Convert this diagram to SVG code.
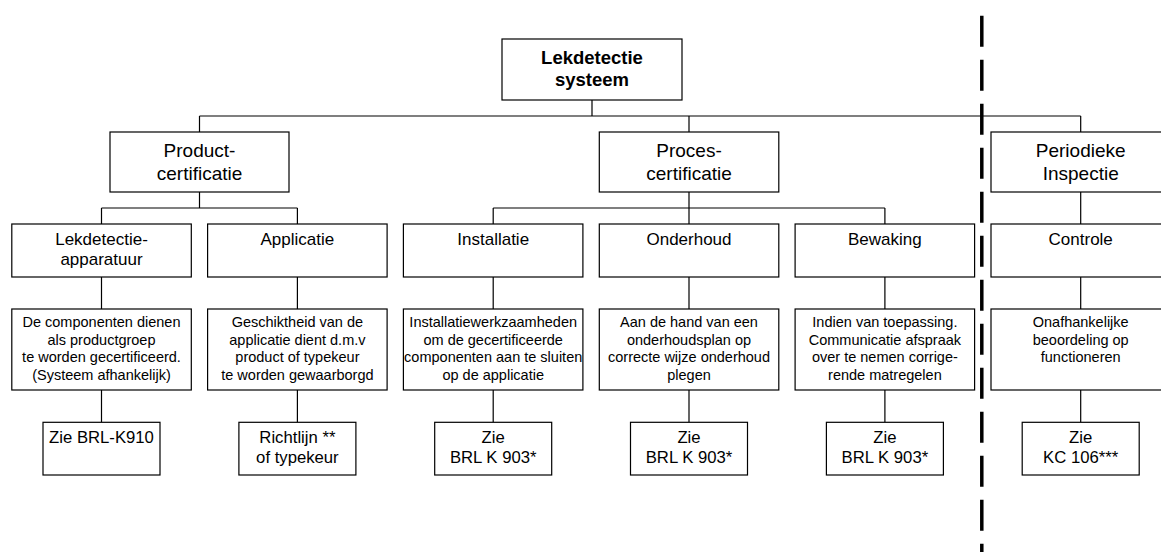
<svg xmlns="http://www.w3.org/2000/svg" width="1161" height="552" viewBox="0 0 1161 552">
<style>
.box{fill:#fff;stroke:#000;stroke-width:1.2}
.conn{fill:none;stroke:#000;stroke-width:1.2}
text{font-family:"Liberation Sans",Arial,sans-serif;fill:#000;text-anchor:middle}
.t0{font-size:18.5px;font-weight:bold}
.t1{font-size:19px}
.t2{font-size:17px}
.t3{font-size:14.5px}
.t4{font-size:16.7px}
.dash{fill:none;stroke:#000;stroke-width:3.5;stroke-dasharray:31 13}
</style>
<rect width="1161" height="552" fill="#fff"/>
<g id="connectors">
<path class="conn" d="M592,100V116M199.5,116H1080.7M199.5,116V132M689,116V132M1080.7,116V132"/>
<path class="conn" d="M199.5,192V208M101.5,208H297.4M101.5,208V224M297.4,208V224"/>
<path class="conn" d="M689,192V224M493.2,208H884.9M493.2,208V224M884.9,208V224"/>
<path class="conn" d="M1080.7,192V224"/>
<path class="conn" d="M101.5,277V309M297.4,277V309M493.2,277V309M689,277V309M884.9,277V309M1080.7,277V309"/>
<path class="conn" d="M101.5,390V422M297.4,390V422M493.2,390V422M689,390V422M884.9,390V422M1080.7,390V422"/>
</g>
<g id="n-top"><rect class="box" x="502" y="39" width="180" height="61"/><text class="t0" x="592" y="64">Lekdetectie</text><text class="t0" x="592" y="86">systeem</text></g>
<g id="n-product"><rect class="box" x="110" y="132" width="179" height="60"/><text class="t1" x="199.5" y="157">Product-</text><text class="t1" x="199.5" y="180">certificatie</text></g>
<g id="n-proces"><rect class="box" x="599.3" y="132" width="179.5" height="60"/><text class="t1" x="689" y="157">Proces-</text><text class="t1" x="689" y="180">certificatie</text></g>
<g id="n-periodiek"><rect class="box" x="991" y="132" width="179.5" height="60"/><text class="t1" x="1080.7" y="157">Periodieke</text><text class="t1" x="1080.7" y="180">Inspectie</text></g>

<g id="n-lekapp"><rect class="box" x="11.8" y="224" width="179.5" height="53"/><text class="t2" x="101.5" y="245">Lekdetectie-</text><text class="t2" x="101.5" y="265">apparatuur</text></g>
<g id="n-applicatie"><rect class="box" x="207.6" y="224" width="179.5" height="53"/><text class="t2" x="297.4" y="245">Applicatie</text></g>
<g id="n-installatie"><rect class="box" x="403.4" y="224" width="179.5" height="53"/><text class="t2" x="493.2" y="245">Installatie</text></g>
<g id="n-onderhoud"><rect class="box" x="599.3" y="224" width="179.5" height="53"/><text class="t2" x="689" y="245">Onderhoud</text></g>
<g id="n-bewaking"><rect class="box" x="795.1" y="224" width="179.5" height="53"/><text class="t2" x="884.9" y="245">Bewaking</text></g>
<g id="n-controle"><rect class="box" x="991" y="224" width="179.5" height="53"/><text class="t2" x="1080.7" y="245">Controle</text></g>

<g id="d-lekapp"><rect class="box" x="11.8" y="309" width="179.5" height="81"/><text class="t3" x="101.5" y="327">De componenten dienen</text><text class="t3" x="101.5" y="344.7">als productgroep</text><text class="t3" x="101.5" y="362.3">te worden gecertificeerd.</text><text class="t3" x="101.5" y="380">(Systeem afhankelijk)</text></g>
<g id="d-applicatie"><rect class="box" x="207.6" y="309" width="179.5" height="81"/><text class="t3" x="297.4" y="327">Geschiktheid van de</text><text class="t3" x="297.4" y="344.7">applicatie dient d.m.v</text><text class="t3" x="297.4" y="362.3">product of typekeur</text><text class="t3" x="297.4" y="380">te worden gewaarborgd</text></g>
<g id="d-installatie"><rect class="box" x="403.4" y="309" width="179.5" height="81"/><text class="t3" x="493.2" y="327">Installatiewerkzaamheden</text><text class="t3" x="493.2" y="344.7">om de gecertificeerde</text><text class="t3" x="493.2" y="362.3">componenten aan te sluiten</text><text class="t3" x="493.2" y="380">op de applicatie</text></g>
<g id="d-onderhoud"><rect class="box" x="599.3" y="309" width="179.5" height="81"/><text class="t3" x="689" y="327">Aan de hand van een</text><text class="t3" x="689" y="344.7">onderhoudsplan op</text><text class="t3" x="689" y="362.3">correcte wijze onderhoud</text><text class="t3" x="689" y="380">plegen</text></g>
<g id="d-bewaking"><rect class="box" x="795.1" y="309" width="179.5" height="81"/><text class="t3" x="884.9" y="327">Indien van toepassing.</text><text class="t3" x="884.9" y="344.7">Communicatie afspraak</text><text class="t3" x="884.9" y="362.3">over te nemen corrige-</text><text class="t3" x="884.9" y="380">rende matregelen</text></g>
<g id="d-controle"><rect class="box" x="991" y="309" width="179.5" height="81"/><text class="t3" x="1080.7" y="327">Onafhankelijke</text><text class="t3" x="1080.7" y="344.7">beoordeling op</text><text class="t3" x="1080.7" y="362.3">functioneren</text></g>

<g id="r-lekapp"><rect class="box" x="43" y="422.3" width="117" height="52.7"/><text class="t4" x="101.5" y="443">Zie BRL-K910</text></g>
<g id="r-applicatie"><rect class="box" x="238.9" y="422.3" width="117" height="52.7"/><text class="t4" x="297.4" y="443">Richtlijn **</text><text class="t4" x="297.4" y="463">of typekeur</text></g>
<g id="r-installatie"><rect class="box" x="434.7" y="422.3" width="117" height="52.7"/><text class="t4" x="493.2" y="443">Zie</text><text class="t4" x="493.2" y="463">BRL K 903*</text></g>
<g id="r-onderhoud"><rect class="box" x="630.5" y="422.3" width="117" height="52.7"/><text class="t4" x="689" y="443">Zie</text><text class="t4" x="689" y="463">BRL K 903*</text></g>
<g id="r-bewaking"><rect class="box" x="826.4" y="422.3" width="117" height="52.7"/><text class="t4" x="884.9" y="443">Zie</text><text class="t4" x="884.9" y="463">BRL K 903*</text></g>
<g id="r-controle"><rect class="box" x="1022.2" y="422.3" width="117" height="52.7"/><text class="t4" x="1080.7" y="443">Zie</text><text class="t4" x="1080.7" y="463">KC 106***</text></g>

<line id="divider" class="dash" x1="981.8" y1="15.7" x2="981.8" y2="552"/>
</svg>
